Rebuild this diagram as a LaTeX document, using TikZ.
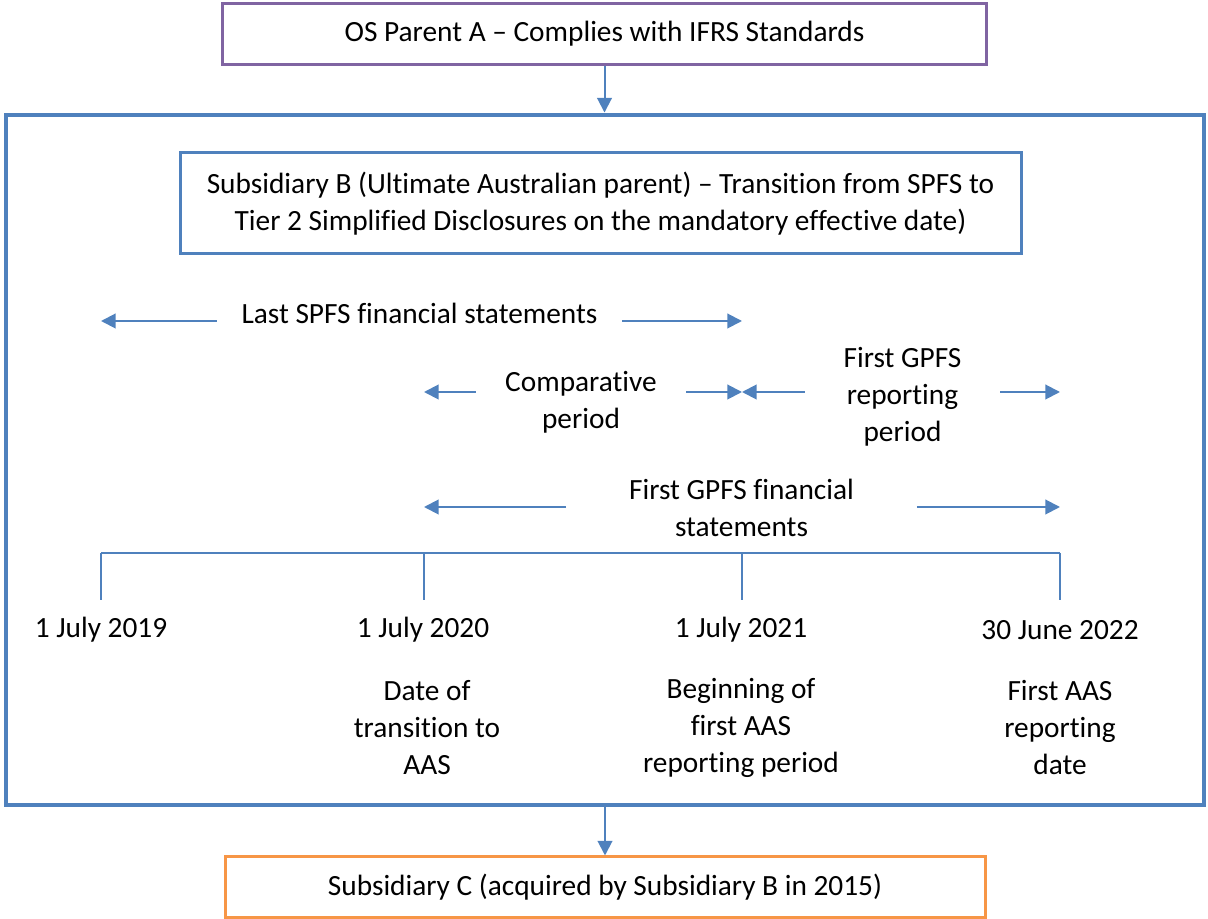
\documentclass[tikz,border=0pt]{standalone}
\usepackage{fontspec}
\setmainfont{Carlito}[Ligatures=CommonOff]
\usetikzlibrary{arrows.meta}
\definecolor{ospurple}{RGB}{128,100,162}
\definecolor{osblue}{RGB}{79,129,189}
\definecolor{osorange}{RGB}{247,150,70}
\begin{document}
\begin{tikzpicture}[x=0.75pt,y=0.75pt,yscale=-1,xscale=1,
		txt/.style={font=\fontsize{22}{27.75}\selectfont, align=center, inner sep=0pt},
		entbox/.style={txt, draw, line width=2.25pt},
		arr/.style={draw=osblue, line width=1.5pt, -{Triangle[length=11pt,width=11pt]}},
		tl/.style={draw=osblue, line width=1.2pt}]
		\useasboundingbox (0,0) rectangle (1208,919);
		% entities
		\node[entbox, draw=ospurple, minimum width=573pt, minimum height=46pt] (osa) at (604.5,34) {OS Parent A -- Complies with IFRS Standards};
		\node[draw=osblue, line width=3.2pt, minimum width=898.5pt, minimum height=518pt, inner sep=0pt] (grp) at (605,460) {};
		\node[entbox, draw=osblue, minimum width=630.75pt, minimum height=75.75pt] (subb) at (600.5,203.5) {Subsidiary B (Ultimate Australian parent) -- Transition from SPFS to\\Tier 2 Simplified Disclosures on the mandatory effective date)};
		\node[entbox, draw=osorange, minimum width=570pt, minimum height=45pt] (subc) at (605,887) {Subsidiary C (acquired by Subsidiary B in 2015)};
		\draw[arr] (osa.south) -- (osa.south |- grp.north);
		\draw[arr] (grp.south -| subc.north) -- (subc.north);
		% timeline
		\coordinate (t1) at (101,553);
		\coordinate (t2) at (424,553);
		\coordinate (t3) at (742,553);
		\coordinate (t4) at (1060,553);
		\draw[tl] (t1) -- (t4);
		\foreach \t in {t1,t2,t3,t4}
			\draw[tl] (\t) -- ++(0,47);
		\node[txt] (d1) at (101,630) {1 July 2019};
		\node[txt] (d2) at (423,630) {1 July 2020};
		\node[txt] (d3) at (741,630) {1 July 2021};
		\node[txt] (d4) at (1060,630) {30 June 2022};
		\node[txt] (n2) at (427,728) {Date of\\transition to\\AAS};
		\node[txt] (n3) at (741,728) {Beginning of\\first AAS\\reporting period};
		\node[txt] (n4) at (1060,728) {First AAS\\reporting\\date};
		% periods
		\coordinate (r1) at (0,321);
		\coordinate (r2) at (0,392);
		\coordinate (r3) at (0,507);
		\node[txt, minimum width=303.75pt] (lastspfs) at (419.5,313) {Last SPFS financial statements};
		\node[txt, minimum width=157.5pt] (comp) at (581,402.5) {Comparative\\period};
		\node[txt, minimum width=146.5pt] (firstrp) at (902.5,397) {First GPFS\\reporting\\period};
		\node[txt, minimum width=262.5pt] (firstfs) at (741.5,507.5) {First GPFS financial\\statements};
		\draw[arr] (lastspfs.west |- r1) -- (t1 |- r1);
		\draw[arr] (lastspfs.east |- r1) -- (t3 |- r1);
		\draw[arr] (comp.west |- r2) -- (t2 |- r2);
		\draw[arr] (comp.east |- r2) -- (t3 |- r2);
		\draw[arr] (firstrp.west |- r2) -- (t3 |- r2);
		\draw[arr] (firstrp.east |- r2) -- (t4 |- r2);
		\draw[arr] (firstfs.west |- r3) -- (t2 |- r3);
		\draw[arr] (firstfs.east |- r3) -- (t4 |- r3);
	\end{tikzpicture}
\end{document}
